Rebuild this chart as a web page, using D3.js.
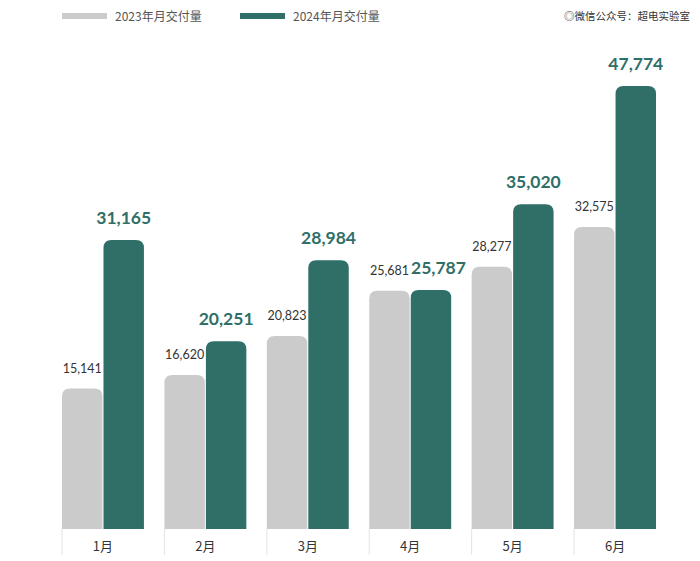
<!DOCTYPE html>
<html><head><meta charset="utf-8">
<script src="https://cdn.jsdelivr.net/npm/d3@7"></script>
<style>body{margin:0;background:#fff;} svg{display:block;}</style>
</head><body>
<svg id="c" width="700" height="561"></svg>
<script>
const months = ["1月","2月","3月","4月","5月","6月"];
const series = ["2023年月交付量","2024年月交付量"];
const values2023 = [15141,16620,20823,25681,28277,32575];
const values2024 = [31165,20251,28984,25787,35020,47774];
const colors = ["#cbcbcb","#2f6f68"];

const svg = d3.select("#c");
const baseY = 529;
const x = d3.scaleBand().domain(months).range([62, 656]).paddingInner(0.2).paddingOuter(0);
const xi = d3.scaleBand().domain(series).range([0, x.bandwidth()]).paddingInner(0.025);
const y = d3.scaleLinear().domain([0, 47774]).range([baseY, 86]);

const data = months.map((m,i)=>({m, vals:[values2023[i], values2024[i]]}));

function topRounded(x0, y0, w, h, r){
  r = Math.min(r, w/2, h);
  return `M${x0},${y0+h}V${y0+r}Q${x0},${y0} ${x0+r},${y0}H${x0+w-r}Q${x0+w},${y0} ${x0+w},${y0+r}V${y0+h}Z`;
}

const g = svg.append("g");
data.forEach(d=>{
  const labels = [];
  series.forEach((s,j)=>{
    const bx = x(d.m)+xi(s), by = y(d.vals[j]);
    g.append("path").attr("d", topRounded(bx, by, xi.bandwidth(), baseY-by, 8)).attr("fill", colors[j]);
    const t = g.append("text").attr("x", bx+xi.bandwidth()/2).attr("text-anchor","middle")
      .attr("font-family","Lato, 'Noto Sans', sans-serif")
      .text(d3.format(",")(d.vals[j]));
    if(j===0){
      t.attr("y", by-16).attr("font-size",12.5).attr("fill","#333");
    } else {
      t.attr("y", by-16).attr("font-size",17.5).attr("font-weight","bold").attr("fill","#2f6f68");
    }
    labels.push(t);
  });
  // nudge the 2024 label right if it collides with the 2023 label
  const b0 = labels[0].node().getBBox(), b1 = labels[1].node().getBBox();
  const vOverlap = !(b0.y > b1.y + b1.height || b1.y > b0.y + b0.height);
  if (vOverlap && b1.x < b0.x + b0.width + 2) {
    const shift = b0.x + b0.width + 2 - b1.x;
    labels[1].attr("x", +labels[1].attr("x") + shift);
  }
});

// axis separators and labels
const ax = svg.append("g");
months.forEach(m=>{
  ax.append("line").attr("x1", x(m)).attr("x2", x(m)).attr("y1", baseY).attr("y2", 555)
    .attr("stroke","#e3e3e3").attr("stroke-width",1);
  ax.append("text").attr("x", x(m)+x.bandwidth()/2).attr("y", 551).attr("text-anchor","middle")
    .attr("font-size",13).attr("fill","#333").attr("font-family","'Noto Sans CJK SC', sans-serif").text(m);
});

// legend
const lg = svg.append("g");
const legX = [62, 240];
series.forEach((s,j)=>{
  lg.append("rect").attr("x", legX[j]).attr("y", 13).attr("width", 45).attr("height", 6).attr("fill", colors[j]);
  lg.append("text").attr("x", legX[j]+53).attr("y", 21).attr("font-size",12).attr("fill","#555")
    .attr("font-family","'Noto Sans CJK SC', sans-serif").text(s);
});
svg.append("text").attr("x", 690).attr("y", 20).attr("text-anchor","end").attr("font-size",10.5)
  .attr("fill","#333").attr("font-family","'Noto Sans CJK SC', sans-serif").text("◎微信公众号：超电实验室");
</script>
</body></html>
